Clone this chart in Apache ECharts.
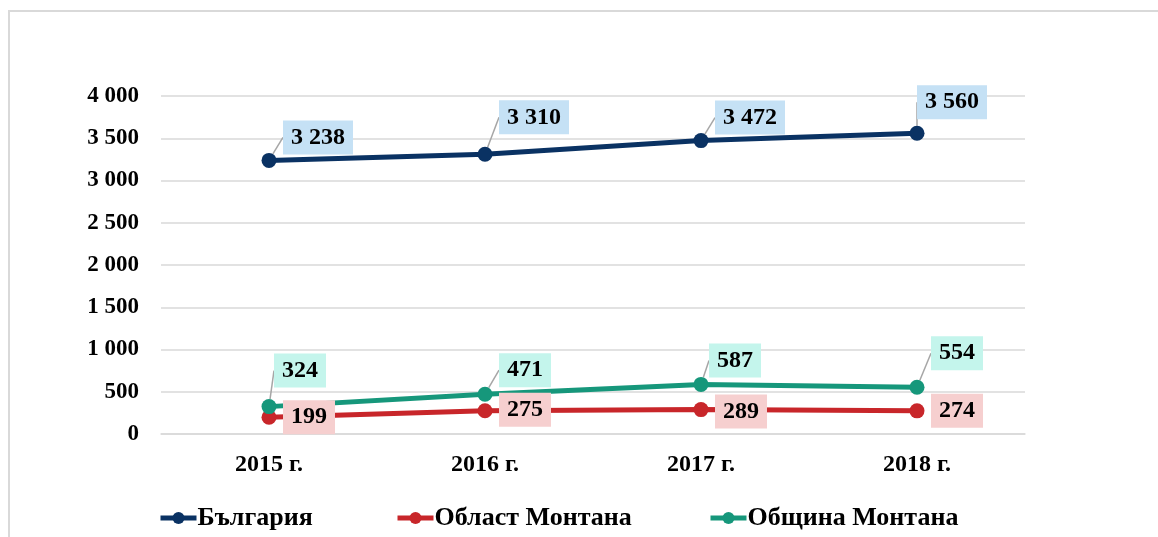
<!DOCTYPE html>
<html>
<head>
<meta charset="utf-8">
<title></title>
<style>
  html, body { margin: 0; padding: 0; background: #fff; }
  #main { width: 1158px; height: 537px; }
</style>
</head>
<body>
<div id="main"></div>
<script src="https://cdn.jsdelivr.net/npm/echarts@6/dist/echarts.min.js"></script>
<script type="text/javascript">
var years = ['2015 г.', '2016 г.', '2017 г.', '2018 г.'];
var bulgaria = [3238, 3310, 3472, 3560];
var oblast = [199, 275, 289, 274];
var obshtina = [324, 471, 587, 554];
var yTicks = [0, 500, 1000, 1500, 2000, 2500, 3000, 3500, 4000];

// label offsets from the point (px)
var offBg = [[49, -23], [49, -37], [49, -23], [35, -31]];
var offObl = [[40, 0], [40, -1], [40, 2], [40, 0]];
var offObs = [[31, -36], [40, -24], [34, -24], [40, -34]];

var font = '"Liberation Serif", "Times New Roman", serif';

function fmt(v) {
  return String(v).replace(/\B(?=(\d{3})+(?!\d))/g, ' ');
}

function mkSeries(name, data, color, bg, off, lines) {
  return {
    name: name,
    type: 'line',
    data: data,
    symbol: 'circle',
    symbolSize: 15,
    lineStyle: { width: 5, color: color },
    itemStyle: { color: color },
    label: {
      show: true,
      position: 'inside',
      formatter: function (p) { return fmt(p.value); },
      fontFamily: font,
      fontWeight: 'bold',
      fontSize: 24,
      lineHeight: 26,
      color: '#000',
      backgroundColor: bg,
      padding: [5, 8, 3, 8]
    },
    labelLine: {
      show: lines,
      lineStyle: { color: '#a6a6a6', width: 1.5 }
    },
    labelLayout: function (p) {
      var o = off[p.dataIndex];
      return { dx: o[0], dy: o[1] };
    }
  };
}

function mkLegend(name, left) {
  return {
    data: [name],
    bottom: 6,
    left: left,
    padding: 0,
    itemWidth: 36,
    itemHeight: 15,
    lineStyle: { width: 5 },
    textStyle: { fontFamily: font, fontWeight: 'bold', fontSize: 26, color: '#000', padding: [0, 0, 0, -4] }
  };
}

var myChart = echarts.init(document.getElementById('main'));
var option = {
  animation: false,
  backgroundColor: '#fff',
  graphic: [{
    type: 'rect',
    shape: { x: 9, y: 11, width: 1300, height: 700 },
    style: { fill: 'none', stroke: '#d9d9d9', lineWidth: 2 },
    silent: true,
    z: -1
  }],
  grid: { left: 161, right: 133, top: 96, bottom: 103 },
  legend: [
    mkLegend('България', 158),
    mkLegend('Област Монтана', 395),
    mkLegend('Община Монтана', 708)
  ],
  xAxis: {
    type: 'category',
    data: years,
    boundaryGap: true,
    axisLine: { show: true, lineStyle: { color: '#d9d9d9', width: 1.5 } },
    axisTick: { show: false },
    axisLabel: { fontFamily: font, fontWeight: 'bold', fontSize: 24, color: '#000', margin: 19 }
  },
  yAxis: {
    type: 'value',
    min: yTicks[0],
    max: yTicks[yTicks.length - 1],
    interval: yTicks[1] - yTicks[0],
    axisLine: { show: false },
    axisTick: { show: false },
    splitLine: { lineStyle: { color: '#d9d9d9', width: 1.5 } },
    axisLabel: {
      fontFamily: font, fontWeight: 'bold', fontSize: 23, color: '#000', margin: 22,
      formatter: function (v) { return fmt(v); }
    }
  },
  series: [
    mkSeries('България', bulgaria, '#0a3263', '#c5e1f5', offBg, true),
    mkSeries('Област Монтана', oblast, '#c8262a', '#f6cfcf', offObl, false),
    mkSeries('Община Монтана', obshtina, '#16977b', '#c4f5ec', offObs, true)
  ]
};
myChart.setOption(option);
</script>
</body>
</html>
